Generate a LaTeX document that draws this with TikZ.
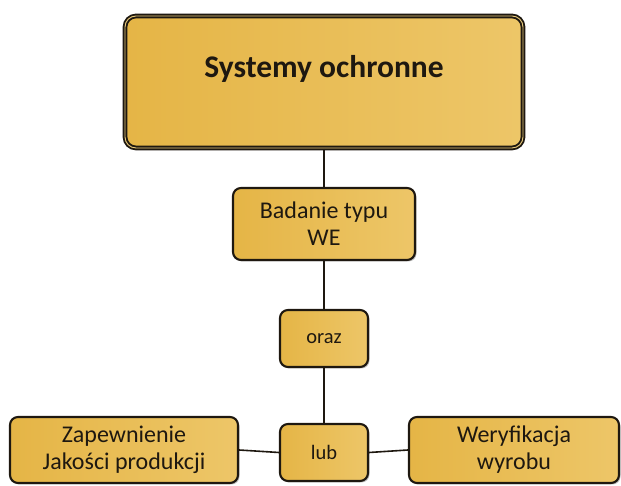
\documentclass[tikz,border=0pt]{standalone}
\usepackage{fontspec}
\setmainfont{Carlito}
\usetikzlibrary{shadows}
\definecolor{goldA}{RGB}{229,181,70}
\definecolor{goldB}{RGB}{237,198,104}
\definecolor{inkc}{RGB}{30,24,16}
\definecolor{rim}{RGB}{236,205,125}
\tikzset{
  box/.style={rectangle, rounded corners=8pt, draw=inkc, line width=2.1pt,
    left color=goldA, right color=goldB, text=inkc, align=center,
    inner sep=0pt,
    drop shadow={shadow xshift=1.5pt, shadow yshift=-1.5pt, opacity=0.25, fill=black}},
  bigtext/.style={font=\fontsize{24}{27}\selectfont},
  smalltext/.style={font=\fontsize{20.5}{24}\selectfont},
  conn/.style={draw=inkc, line width=1.6pt}
}
\begin{document}
\begin{tikzpicture}[x=1pt,y=1pt]
\useasboundingbox (0,0) rectangle (621,486);
% top box
\node[box, rounded corners=11pt, line width=1.9pt, double=rim, double distance=0.9pt,
  minimum width=398, minimum height=132, text height=62pt, text depth=70pt,
  font=\bfseries\fontsize{31.5}{36}\selectfont] (top) at (324,404) {Systemy ochronne};
\node[box, bigtext, minimum width=182, minimum height=72] (bad) at (324,262) {Badanie typu\\WE};
\node[box, smalltext, minimum width=88, minimum height=57] (oraz) at (324,147.5) {oraz};
\node[box, smalltext, minimum width=88, minimum height=57] (lub) at (324,33.5) {lub};
\node[box, bigtext, minimum width=228, minimum height=66] (zap) at (124,36) {Zapewnienie\\Jakości produkcji};
\node[box, bigtext, minimum width=210, minimum height=66] (wer) at (514,36) {Weryfikacja\\wyrobu};
\draw[conn] (top.south) -- (bad.north);
\draw[conn] (bad.south) -- (oraz.north);
\draw[conn] (oraz.south) -- (lub.north);
\draw[conn] (lub.west) -- (zap.east);
\draw[conn] (lub.east) -- (wer.west);
\end{tikzpicture}
\end{document}
